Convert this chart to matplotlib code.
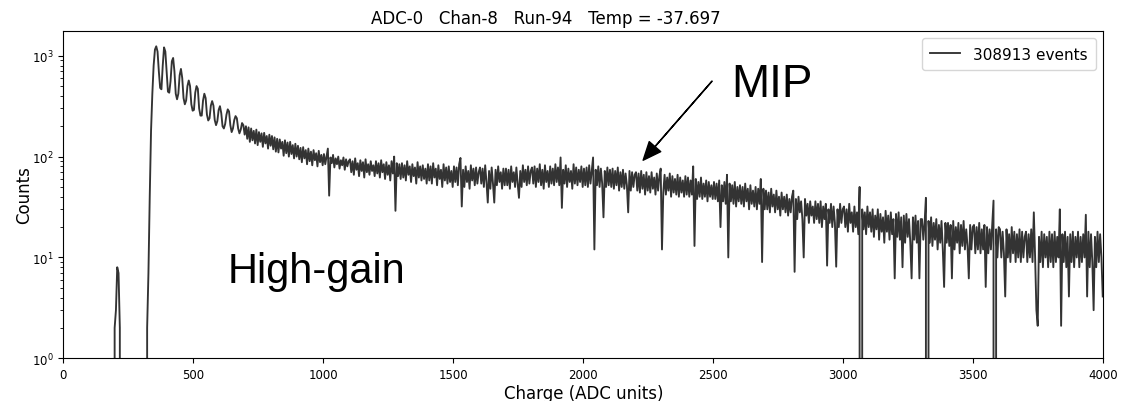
import numpy as np
import matplotlib
matplotlib.use('Agg')
import matplotlib.pyplot as plt

# charge histogram, high-gain channel, 5 ADC bins
bin_width = 5

# pedestal + photo-electron peaks
peak_start = 190
peak_counts = [
    0, 2, 3, 8, 7, 2, 0, 0, 0, 0,                      # 190-235
    0, 0, 0, 0, 0, 0, 0, 0, 0, 0,                      # 240-285
    0, 0, 0, 0, 0, 0,                                  # 290-315
    2, 7, 40, 180, 420, 800, 1150, 1240, 1100, 700,    # 320-365
    480, 465, 800, 1210, 1100, 700, 440, 430, 560, 880,  # 370-415
    950, 700, 420, 370, 420, 640, 740, 600, 380, 330,  # 420-465
    360, 500, 568, 500, 330, 285, 290, 430, 500, 470,  # 470-515
    300, 255, 255, 360, 420, 380, 260, 228, 240, 320,  # 520-565
    355, 320, 230, 205, 225, 290, 316, 270, 200, 190,  # 570-615
    210, 260, 294, 280, 205, 175, 190, 230, 252, 240,  # 620-665
    190, 170, 185, 215, 205, 165,                      # 670-695
]

# long tail, one row per 100 ADC
tail_start = 700
tail_counts = [
    200, 150, 195, 140, 190, 145, 180, 135, 185, 130, 175, 140, 170, 125, 172, 135, 160, 120, 165, 128,  # 700
    160, 118, 155, 112, 150, 110, 148, 120, 140, 102, 145, 108, 138, 100, 140, 106, 130, 96, 134, 100,  # 800
    128, 94, 122, 88, 124, 96, 116, 84, 120, 90, 112, 82, 116, 92, 108, 80, 114, 88, 104, 82,  # 900
    106, 84, 100, 120, 41, 98, 86, 104, 78, 96, 84, 100, 76, 92, 82, 98, 74, 94, 80, 90,  # 1000
    94, 70, 90, 66, 96, 74, 86, 64, 92, 72, 88, 62, 94, 70, 84, 66, 90, 72, 82, 64,  # 1100
    90, 68, 86, 62, 92, 70, 84, 60, 88, 66, 82, 58, 90, 68, 100, 29, 86, 64, 84, 60,  # 1200
    86, 62, 82, 58, 90, 66, 80, 56, 84, 64, 78, 54, 88, 62, 80, 58, 82, 60, 76, 54,  # 1300
    84, 58, 80, 54, 86, 62, 76, 52, 82, 60, 74, 50, 84, 58, 78, 54, 80, 56, 72, 50,  # 1400
    80, 56, 78, 52, 84, 97, 32, 74, 50, 80, 56, 72, 48, 82, 58, 76, 52, 78, 54, 70,  # 1500
    78, 54, 76, 50, 82, 56, 35, 72, 48, 78, 54, 35, 74, 52, 80, 56, 70, 48, 76, 52,  # 1600
    76, 52, 74, 48, 80, 56, 70, 50, 78, 54, 39, 72, 50, 82, 56, 74, 52, 80, 54, 72,  # 1700
    78, 54, 80, 50, 76, 56, 84, 52, 74, 48, 82, 56, 72, 50, 80, 54, 76, 52, 84, 56,  # 1800
    78, 52, 98, 31, 74, 54, 82, 50, 76, 56, 72, 48, 84, 54, 78, 52, 74, 56, 80, 50,  # 1900
    76, 52, 78, 50, 82, 54, 72, 98, 12, 74, 52, 80, 50, 76, 54, 25, 72, 50, 78, 52,  # 2000
    74, 50, 76, 48, 72, 52, 78, 46, 70, 50, 74, 48, 68, 52, 28, 72, 46, 70, 50, 66,  # 2100
    70, 46, 68, 44, 72, 48, 66, 42, 70, 46, 64, 44, 70, 48, 62, 42, 68, 46, 64, 76,  # 2200
    12, 44, 66, 42, 62, 46, 68, 40, 64, 44, 60, 42, 66, 40, 62, 44, 58, 40, 64, 42,  # 2300
    62, 40, 58, 42, 80, 13, 60, 38, 56, 40, 62, 38, 54, 40, 58, 36, 56, 40, 52, 38,  # 2400
    56, 38, 54, 36, 58, 20, 52, 36, 56, 34, 66, 10, 54, 36, 52, 34, 56, 32, 50, 36,  # 2500
    52, 34, 50, 32, 54, 36, 48, 30, 52, 34, 46, 32, 50, 30, 48, 34, 60, 9, 48, 30,  # 2600
    46, 30, 44, 28, 48, 32, 42, 28, 46, 30, 40, 26, 44, 30, 40, 28, 42, 26, 38, 28,  # 2700
    40, 46, 7.2, 38, 24, 40, 28, 36, 24, 10, 38, 26, 34, 22, 36, 26, 32, 22, 36, 24,  # 2800
    34, 22, 36, 20, 32, 24, 34, 8.3, 30, 22, 34, 20, 32, 22, 8.1, 30, 20, 34, 22, 30,  # 2900
    32, 20, 30, 18, 34, 22, 28, 18, 32, 20, 28, 17, 50, 0, 30, 19, 28, 17, 32, 20,  # 3000
    28, 18, 30, 16, 26, 19, 30, 15, 27, 18, 25, 14, 29, 18, 26, 15, 28, 17, 24, 6.2,  # 3100
    27, 16, 28, 15, 25, 8, 26, 14, 27, 16, 24, 14, 6.2, 25, 15, 26, 14, 23, 6.2, 24,  # 3200
    24, 15, 22, 39, 0, 23, 14, 25, 13, 22, 15, 24, 12, 21, 14, 23, 12, 5.1, 22, 14,  # 3300
    22, 13, 21, 6.2, 23, 12, 20, 14, 22, 11, 21, 13, 23, 12, 19, 13, 6.2, 21, 12, 20,  # 3400
    21, 11, 20, 12, 22, 11, 19, 12, 21, 5.1, 20, 11, 19, 12, 21, 36.6, 0, 19, 10, 20,  # 3500
    19, 10, 18, 11, 4.1, 19, 10, 17, 9, 20, 11, 18, 9, 17, 10, 19, 9, 18, 10, 16,  # 3600
    18, 9, 17, 10, 19, 9, 28, 10, 3.0, 2.1, 16, 9, 18, 8, 17, 10, 16, 8, 18, 9,  # 3700
    17, 8, 18, 9, 16, 10, 30, 2.1, 17, 9, 18, 8, 16, 4.1, 17, 9, 18, 8, 16, 10,  # 3800
    18, 8, 16, 9, 17, 10, 26.5, 4.1, 18, 8, 17, 9, 3.0, 16, 8, 18, 9, 17, 10, 4.1,  # 3900
]

n_events = 308913
title = 'ADC-0   Chan-8   Run-94   Temp = -37.697'

counts = np.array(peak_counts + tail_counts, dtype=float)
centres = peak_start + bin_width * (np.arange(len(counts)) + 0.5)

fig = plt.figure(figsize=(11.22, 4.02), dpi=100)
ax = fig.add_axes([0.0564, 0.1062, 0.9270, 0.8149])

ax.plot(centres, counts, color='#333333', lw=1.35, label='%d events' % n_events)
ax.set_yscale('log')
ax.set_xlim(0, 4000)
ax.set_ylim(1, 1770)
ax.text(0.4644, 1.012, title, transform=ax.transAxes, fontsize=12,
        ha='center', va='bottom')
ax.set_xlabel('Charge (ADC units)', fontsize=12, labelpad=2)
ax.set_ylabel('Counts', fontsize=12, labelpad=-1)
ax.tick_params(labelsize=8.5)
ax.legend(loc='upper right', fontsize=11, borderpad=0.55)

ax.annotate('', xy=(2230, 92), xytext=(2495, 560),
            arrowprops=dict(facecolor='black', edgecolor='black', width=0.2,
                            headwidth=11, headlength=13, shrink=0))
ax.text(2568, 523, 'MIP', fontsize=33, family='Liberation Sans',
        ha='left', va='center')
ax.text(633, 5.7, 'High-gain', fontsize=30, family='Liberation Sans',
        ha='left', va='baseline')

fig.savefig('out.png', dpi=100)
